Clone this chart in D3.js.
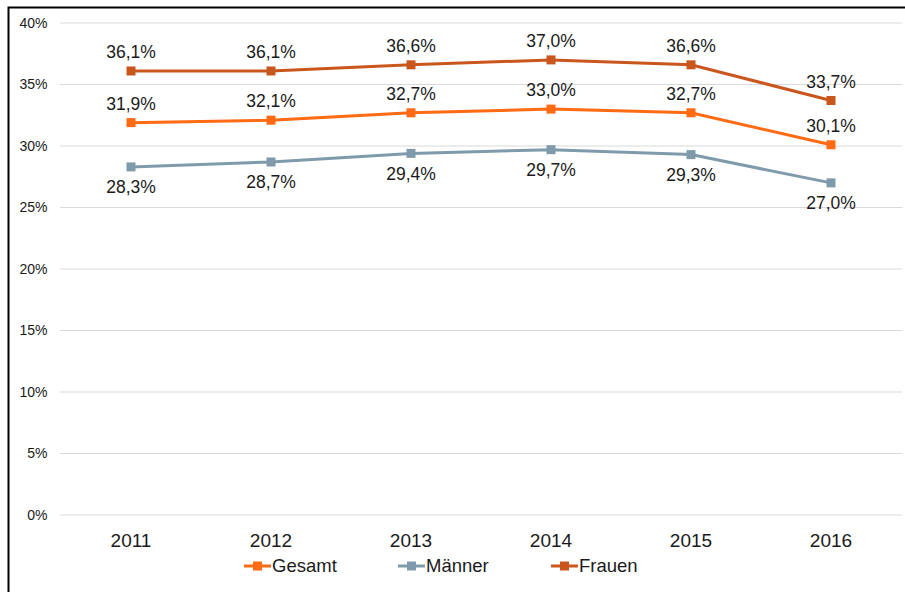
<!DOCTYPE html>
<html>
<head>
<meta charset="utf-8">
<script src="https://cdn.jsdelivr.net/npm/d3@7"></script>
<style>
  body { margin: 0; background: #fff; }
  svg text { font-family: Arial, "Liberation Sans", sans-serif; fill: #1a1a1a; }
</style>
</head>
<body>
<div id="chart"></div>
<script>
var years = ["2011", "2012", "2013", "2014", "2015", "2016"];
var gesamt = [31.9, 32.1, 32.7, 33.0, 32.7, 30.1];
var maenner = [28.3, 28.7, 29.4, 29.7, 29.3, 27.0];
var frauen = [36.1, 36.1, 36.6, 37.0, 36.6, 33.7];
var yTicks = [0, 5, 10, 15, 20, 25, 30, 35, 40];

var series = [
    { name: "Gesamt", values: gesamt, color: "#ff6a13", labelPos: "above" },
    { name: "Männer", values: maenner, color: "#7f9bab", labelPos: "below" },
    { name: "Frauen", values: frauen, color: "#c9561c", labelPos: "above" }
];

var width = 905, height = 592;
var svg = d3.select("#chart").append("svg")
    .attr("width", width)
    .attr("height", height);

// outer frame (clipped at right/bottom like the source)
svg.append("rect")
    .attr("x", 8.5).attr("y", 7.5)
    .attr("width", 1000).attr("height", 1000)
    .attr("fill", "none")
    .attr("stroke", "#000")
    .attr("stroke-width", 2);

var x = d3.scaleBand().domain(years).range([61, 901]);
var y = d3.scaleLinear().domain([0, 40]).range([515, 23]);
var fmt = v => v.toFixed(1).replace(".", ",") + "%";

// gridlines + y labels
var yAxis = svg.append("g");
yAxis.selectAll("line").data(yTicks).enter().append("line")
    .attr("x1", 60).attr("x2", 902)
    .attr("y1", d => y(d)).attr("y2", d => y(d))
    .attr("stroke", "#d9d9d9").attr("stroke-width", 1);
yAxis.selectAll("text").data(yTicks).enter().append("text")
    .attr("x", 47.5).attr("y", d => y(d))
    .attr("dy", "0.35em")
    .attr("text-anchor", "end")
    .style("font-size", "14px")
    .text(d => d + "%");

// x labels
svg.append("g").selectAll("text").data(years).enter().append("text")
    .attr("x", d => x(d) + x.bandwidth() / 2)
    .attr("y", 540).attr("dy", "0.35em")
    .attr("text-anchor", "middle")
    .style("font-size", "19px")
    .text(d => d);

var line = d3.line()
    .x((d, i) => x(years[i]) + x.bandwidth() / 2)
    .y(d => y(d));

series.forEach(function (s) {
    var g = svg.append("g");
    g.append("path")
        .attr("d", line(s.values))
        .attr("fill", "none")
        .attr("stroke", s.color)
        .attr("stroke-width", 3);
    g.selectAll("rect").data(s.values).enter().append("rect")
        .attr("x", (d, i) => x(years[i]) + x.bandwidth() / 2 - 4.5)
        .attr("y", d => y(d) - 4.5)
        .attr("width", 9).attr("height", 9)
        .attr("fill", s.color);
    g.selectAll("text").data(s.values).enter().append("text")
        .attr("x", (d, i) => x(years[i]) + x.bandwidth() / 2)
        .attr("y", d => y(d) + (s.labelPos == "above" ? -19 : 20))
        .attr("dy", "0.35em")
        .attr("text-anchor", "middle")
        .style("font-size", "17.5px")
        .text(d => fmt(d));
});

// legend
var legendX = [244, 398, 551];
var legend = svg.append("g");
series.forEach(function (s, i) {
    var lg = legend.append("g").attr("transform", `translate(${legendX[i]},566)`);
    lg.append("line").attr("x1", 0).attr("x2", 27).attr("y1", 0).attr("y2", 0)
        .attr("stroke", s.color).attr("stroke-width", 3);
    lg.append("rect").attr("x", 9).attr("y", -4.5).attr("width", 9).attr("height", 9)
        .attr("fill", s.color);
    lg.append("text").attr("x", 28).attr("y", 0).attr("dy", "0.35em")
        .style("font-size", "18.5px")
        .text(s.name);
});
</script>
</body>
</html>
